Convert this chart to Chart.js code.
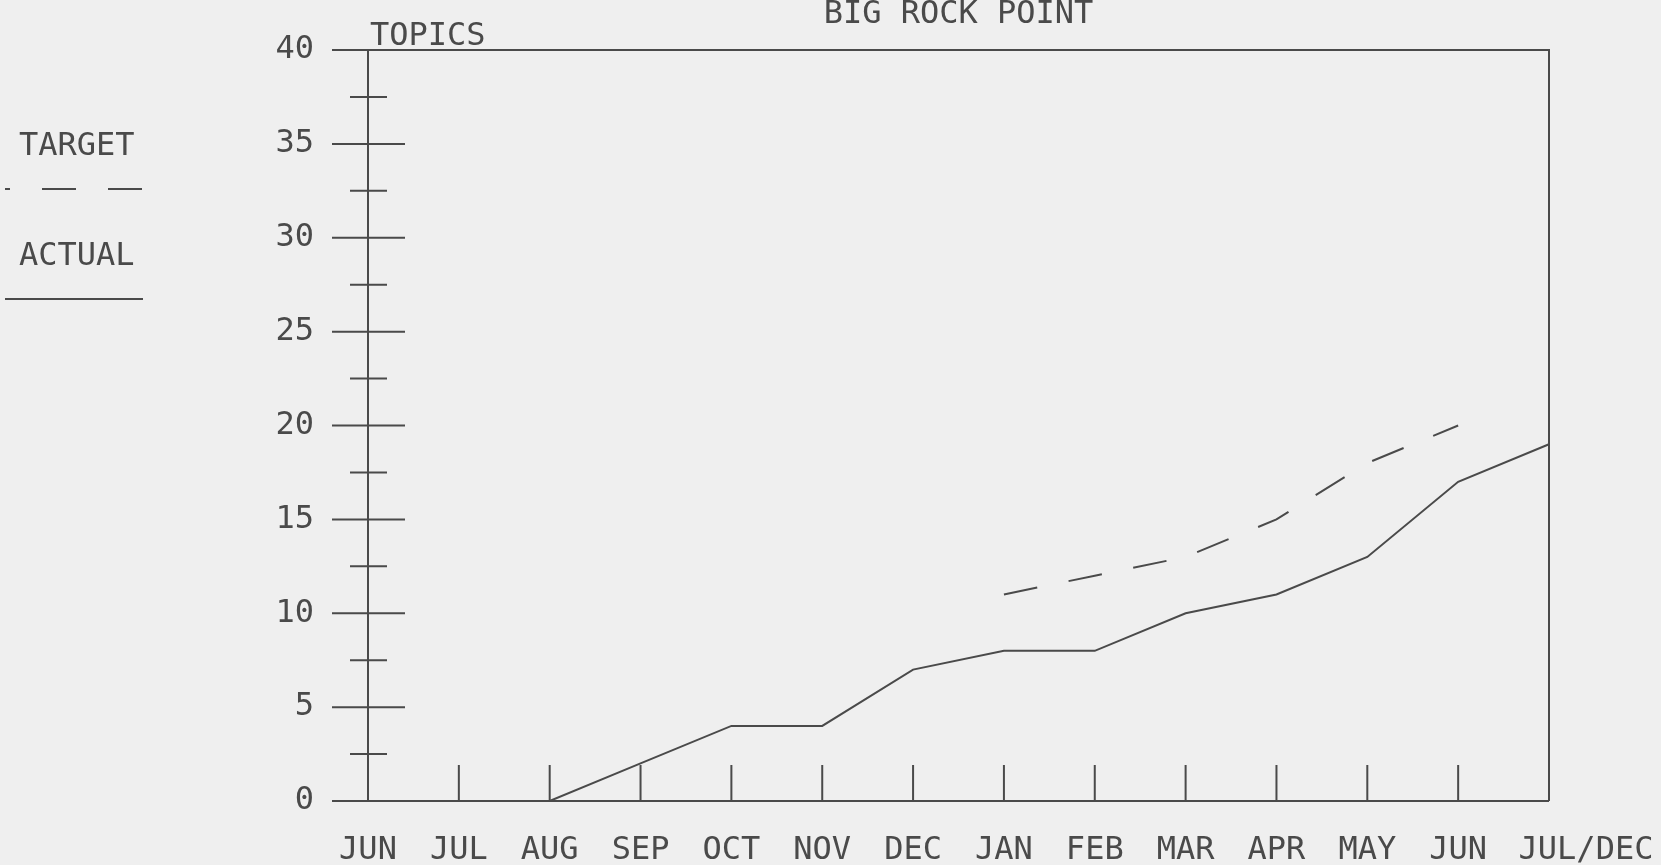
<!DOCTYPE html>
<html>
<head>
<meta charset="utf-8">
<script src="https://cdn.jsdelivr.net/npm/chart.js@4.4.1/dist/chart.umd.min.js"></script>
<style>
  body { margin: 0; background: #efefef; }
  #wrap { width: 1661px; height: 865px; position: relative; }
</style>
</head>
<body>
<div id="wrap"><canvas id="myChart"></canvas></div>
<script>
const months = ["JUN", "JUL", "AUG", "SEP", "OCT", "NOV", "DEC", "JAN", "FEB", "MAR", "APR", "MAY", "JUN", "JUL/DEC"];
const actual = [0, 0, 0, 2, 4, 4, 7, 8, 8, 10, 11, 13, 17, 19];
const target = [null, null, null, null, null, null, null, 11, 12, 13, 15, 18, 20, null];
const yMin = 0;
const yMax = 40;
const yStep = 2.5;
const yLabelEvery = 5;
const chartTitle = "BIG ROCK POINT";
const yTitle = "TOPICS";

const ink = "#4a4a4a";
const fontFamily = "'DejaVu Sans Mono', monospace";
Chart.defaults.font.family = fontFamily;
Chart.defaults.font.size = 32;
Chart.defaults.color = ink;

const ctx = document.getElementById("myChart").getContext("2d");

// axis frame, tick marks, title and the hand drawn legend
const plotterPlugin = {
  id: "plotter",
  beforeDraw(chart) {
    // the last month label sits to the right of its tick in the original
    const items = chart.scales.x.getLabelItems();
    if (!items._shifted && items.length) {
      const last = items[items.length - 1];
      last.options.translation = [last.options.translation[0] + 37, last.options.translation[1]];
      items._shifted = true;
    }
  },
  afterDatasetsDraw(chart) {
    const c = chart.ctx;
    const area = chart.chartArea;
    const xs = chart.scales.x;
    const ys = chart.scales.y;
    const x0 = area.left;
    c.save();
    c.strokeStyle = ink;
    c.lineWidth = 2;
    c.beginPath();
    // axis + frame
    c.moveTo(x0, area.top);
    c.lineTo(x0, area.bottom);
    c.moveTo(x0 - 36, area.top);
    c.lineTo(area.right, area.top);
    c.lineTo(area.right, area.bottom);
    c.moveTo(x0 - 36, area.bottom);
    c.lineTo(area.right, area.bottom);
    // y ticks
    ys.ticks.forEach((t) => {
      const py = ys.getPixelForValue(t.value);
      const major = t.value % yLabelEvery === 0;
      c.moveTo(x0 - (major ? 36 : 18), py);
      c.lineTo(x0 + (major ? 37 : 19), py);
    });
    // x ticks
    xs.ticks.forEach((t, i) => {
      const px = xs.getPixelForTick(i);
      c.moveTo(px, area.bottom);
      c.lineTo(px, area.bottom - 36);
    });
    c.stroke();

    c.fillStyle = ink;
    c.font = "32px " + fontFamily;
    c.textBaseline = "alphabetic";
    c.textAlign = "center";
    c.fillText(chartTitle, (area.left + area.right) / 2, 23);
    c.textAlign = "left";
    c.fillText(yTitle, x0 + 2, 45);

    // legend
    const items = [chart.data.datasets[0], chart.data.datasets[1]];
    items.forEach((ds, i) => {
      const top = 155 + i * 110;
      c.fillText(ds.label, 19, top);
      c.beginPath();
      c.setLineDash(ds.borderDash || []);
      c.lineDashOffset = ds.borderDash ? 29 : 0;
      c.moveTo(5, top + 34);
      c.lineTo(143, top + 34);
      c.stroke();
    });
    c.restore();
  },
};

const chartData = {
  labels: months,
  datasets: [
    {
      label: "TARGET",
      data: target,
      borderColor: ink,
      borderWidth: 2,
      borderDash: [34, 32],
      pointRadius: 0,
      spanGaps: false,
      tension: 0,
    },
    {
      label: "ACTUAL",
      data: actual,
      borderColor: ink,
      borderWidth: 2,
      pointRadius: 0,
      tension: 0,
    },
  ],
};

const config = {
  type: "line",
  data: chartData,
  options: {
    responsive: true,
    maintainAspectRatio: false,
    animation: false,
    layout: { padding: { top: 50, right: 112, left: 0, bottom: 0 } },
    plugins: {
      legend: { display: false },
      title: { display: false },
      tooltip: { enabled: false },
    },
    scales: {
      x: {
        offset: false,
        // invisible tick marks only used to push the labels down
        grid: { drawOnChartArea: false, tickLength: 30, tickColor: "rgba(0,0,0,0)" },
        border: { display: false },
        ticks: { padding: 0, maxRotation: 0, autoSkip: false },
        afterFit: (s) => { s.height = 64; },
      },
      y: {
        min: yMin,
        max: yMax,
        grid: { drawOnChartArea: false, tickLength: 54, tickColor: "rgba(0,0,0,0)" },
        border: { display: false },
        ticks: {
          stepSize: yStep,
          padding: 0,
          callback: (v) => (v % yLabelEvery === 0 ? String(v) : ""),
        },
        afterFit: (s) => { s.width = 368; },
      },
    },
  },
  plugins: [plotterPlugin],
};

new Chart(ctx, config);
</script>
</body>
</html>
